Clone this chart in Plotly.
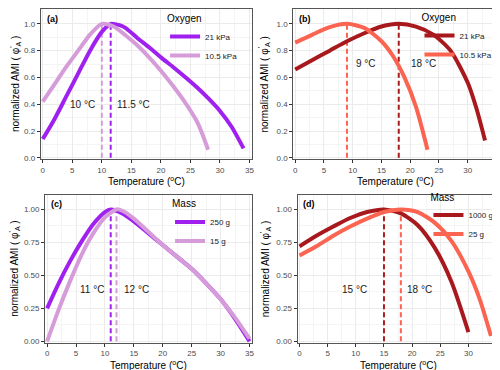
import plotly.graph_objects as go

# ---------------- data ----------------
# Panel (a) Oxygen
a_names = ["21 kPa", "10.5 kPa"]
a_x_21 = [0, 2, 4, 6, 8, 10, 11.5, 13, 14, 16, 18, 20, 22, 24, 26, 28, 30, 32, 34]
a_y_21 = [0.14, 0.29, 0.46, 0.63, 0.80, 0.94, 1.0, 0.99, 0.97, 0.895, 0.825, 0.75, 0.68, 0.607, 0.53, 0.445, 0.35, 0.23, 0.07]
a_x_105 = [0, 2, 4, 6, 8, 10, 12, 14, 16, 18, 20, 22, 24, 26, 27, 28]
a_y_105 = [0.42, 0.55, 0.68, 0.80, 0.92, 1.0, 0.98, 0.915, 0.84, 0.75, 0.65, 0.54, 0.42, 0.28, 0.18, 0.06]
a_opt = [11.5, 10]

# Panel (b) Oxygen
b_names = ["21 kPa", "10.5 kPa"]
b_x_21 = [0, 3, 6, 9, 12, 15, 18, 21, 24, 27, 30, 31.5, 33]
b_y_21 = [0.66, 0.73, 0.80, 0.87, 0.93, 0.98, 1.0, 0.98, 0.92, 0.80, 0.56, 0.37, 0.13]
b_x_105 = [0, 3, 6, 9, 12, 15, 17, 19, 21, 23]
b_y_105 = [0.86, 0.92, 0.975, 1.0, 0.97, 0.87, 0.76, 0.60, 0.38, 0.06]
b_opt = [18, 9]

# Panel (c) Mass
c_names = ["250 g", "15 g"]
c_x_250 = [0, 2, 4, 6, 8, 10, 11, 13, 15, 17.5, 20, 22.5, 25, 27.5, 30, 32.5, 35]
c_y_250 = [0.25, 0.44, 0.61, 0.76, 0.89, 0.98, 1.0, 0.97, 0.91, 0.82, 0.73, 0.64, 0.55, 0.44, 0.32, 0.17, 0.0]
c_x_15 = [0, 2, 4, 6, 8, 10, 12, 13, 15, 17.5, 20, 22.5, 25, 27.5, 30, 32.5, 35]
c_y_15 = [0.0, 0.24, 0.46, 0.66, 0.82, 0.94, 1.0, 0.99, 0.93, 0.83, 0.73, 0.64, 0.55, 0.44, 0.32, 0.18, 0.02]
c_opt = [11, 12]

# Panel (d) Mass
d_names = ["1000 g", "25 g"]
d_x_1000 = [0, 3, 6, 9, 12, 15, 18, 21, 24, 27, 30]
d_y_1000 = [0.72, 0.80, 0.87, 0.935, 0.98, 1.0, 0.97, 0.88, 0.71, 0.45, 0.07]
d_x_25 = [0, 3, 6, 9, 12, 15, 18, 21, 24, 27, 30, 32, 34]
d_y_25 = [0.65, 0.72, 0.80, 0.87, 0.93, 0.98, 1.0, 0.98, 0.90, 0.76, 0.53, 0.32, 0.04]
d_opt = [15, 18]

x_ticks = [0, 5, 10, 15, 20, 25, 30, 35]
y_ticks_ab = [0.0, 0.2, 0.4, 0.6, 0.8, 1.0]
y_ticks_cd = [0.0, 0.25, 0.5, 0.75, 1.0]

# ---------------- style ----------------
FONT = "Liberation Sans, Arial, Helvetica, sans-serif"
purple, plum = "#A020F0", "#D59CD9"
darkred, tomato = "#A8191E", "#FA6450"
W, H = 500, 370
X_TITLE = "Temperature (<sup>o</sup>C)"
Y_TITLE = "normalized AMI ( φ<sup>'</sup><sub>A</sub> )"

panels = [
    dict(key="", leg="legend", lab="(a)", title="Oxygen", names=a_names,
         xs=[a_x_21, a_x_105], ys=[a_y_21, a_y_105], opt=a_opt, cols=[purple, plum],
         dom_x=[32.9, 245.0], dom_y=[1.0, 152.5], yt=y_ticks_ab, fmt=".1f", ytx=7,
         labs=[("left", 0.8, 0.395), ("right", -0.8, 0.395)]),
    dict(key="2", leg="legend2", lab="(b)", title="Oxygen", names=b_names,
         xs=[b_x_21, b_x_105], ys=[b_y_21, b_y_105], opt=b_opt, cols=[darkred, tomato],
         dom_x=[286.9, 493.5], dom_y=[1.0, 152.5], yt=y_ticks_ab, fmt=".1f", ytx=257,
         labs=[("left", 1.8, 0.705), ("left", 1.3, 0.705)]),
    dict(key="3", leg="legend3", lab="(c)", title="Mass", names=c_names,
         xs=[c_x_250, c_x_15], ys=[c_y_250, c_y_15], opt=c_opt, cols=[purple, plum],
         dom_x=[37.3, 245.0], dom_y=[188.3, 337.5], yt=y_ticks_cd, fmt=".2f", ytx=7,
         labs=[("right", -0.9, 0.39), ("left", 1.0, 0.39)]),
    dict(key="4", leg="legend4", lab="(d)", title="Mass", names=d_names,
         xs=[d_x_1000, d_x_25], ys=[d_y_1000, d_y_25], opt=d_opt, cols=[darkred, tomato],
         dom_x=[291.3, 493.5], dom_y=[188.3, 337.5], yt=y_ticks_cd, fmt=".2f", ytx=259,
         labs=[("right", -2.6, 0.39), ("left", 0.8, 0.39)]),
]

legend_pos = {
    "legend": dict(x=158, y=1),
    "legend2": dict(x=414, y=0),
    "legend3": dict(x=163, y=188),
    "legend4": dict(x=423, y=181),
}

fig = go.Figure()
layout = dict(width=W, height=H, margin=dict(l=0, r=0, t=0, b=0),
              plot_bgcolor="white", paper_bgcolor="white",
              font=dict(family=FONT, color="#1a1a1a"), annotations=[])

for p in panels:
    k = p["key"]
    xa, ya = "x" + k, "y" + k
    # dashed optimum lines (drawn first)
    for t, c in zip(p["opt"], p["cols"]):
        fig.add_trace(go.Scatter(x=[t, t], y=[0, 1], mode="lines", xaxis=xa, yaxis=ya,
                                 line=dict(color=c, width=2, dash="5px,3px"),
                                 showlegend=False, hoverinfo="skip"))
    for name, xs, ys, c in zip(p["names"], p["xs"], p["ys"], p["cols"]):
        fig.add_trace(go.Scatter(x=xs, y=ys, mode="lines", name=name, xaxis=xa, yaxis=ya,
                                 line=dict(color=c, width=4, shape="spline", smoothing=0.7),
                                 legend=p["leg"]))
    gridkw = dict(showgrid=True, gridcolor="#EBEBEB", gridwidth=1, zeroline=False,
                  showline=True, linecolor="#555555", linewidth=1, mirror=True,
                  ticks="outside", ticklen=3, tickcolor="#333333", tickwidth=1,
                  ticklabeloverflow="allow",
                  tickfont=dict(size=8, color="#4D4D4D", family=FONT))
    layout["xaxis" + k] = dict(domain=[p["dom_x"][0] / W, p["dom_x"][1] / W], anchor=ya,
                               range=[-0.35, 35.35], tickvals=x_ticks,
                               minor=dict(dtick=2.5, tick0=0, showgrid=True, gridcolor="#F4F4F4",
                                          gridwidth=0.6, ticks=""),
                               **gridkw)
    layout["yaxis" + k] = dict(domain=[1 - p["dom_y"][1] / H, 1 - p["dom_y"][0] / H], anchor=xa,
                               range=[-0.011, 1.111], tickvals=p["yt"], tickformat=p["fmt"],
                               minor=dict(tickvals=[(a + b) / 2 for a, b in zip(p["yt"][:-1], p["yt"][1:])],
                                          showgrid=True, gridcolor="#F4F4F4", gridwidth=0.6, ticks=""),
                               **gridkw)
    lp = legend_pos[p["leg"]]
    layout[p["leg"]] = dict(x=lp["x"] / W, xanchor="left", y=1 - lp["y"] / H, yanchor="top",
                            bgcolor="rgba(255,255,255,0)", borderwidth=0,
                            title=dict(text=p["title"], font=dict(size=10, color="#000000")),
                            font=dict(size=8, color="#1a1a1a"), tracegroupgap=0)
    # axis titles
    layout["annotations"].append(dict(x=0.5, y=0, xref=xa + " domain", yref=ya + " domain",
                                      text=X_TITLE, showarrow=False, xanchor="center", yanchor="top",
                                      yshift=-14, font=dict(size=10, color="#000000")))
    layout["annotations"].append(dict(x=p["ytx"] / W, y=0.5, xref="paper", yref=ya + " domain",
                                      text=Y_TITLE, showarrow=False, xanchor="center", yanchor="middle",
                                      textangle=-90, font=dict(size=10, color="#000000")))
    # panel label
    layout["annotations"].append(dict(x=0.3, y=1.04, xref=xa, yref=ya, text="<b>" + p["lab"] + "</b>",
                                      showarrow=False, xanchor="left", yanchor="middle",
                                      font=dict(size=9, color="#000000")))
    # optimum temperature labels
    for t, (anc, off, yy) in zip(p["opt"], p["labs"]):
        layout["annotations"].append(dict(x=t + off, y=yy, xref=xa, yref=ya, text=f"{t:g} °C",
                                          showarrow=False, xanchor=anc, yanchor="middle",
                                          font=dict(size=10, color="#1a1a1a")))

fig.update_layout(**layout)
fig.write_html("out.html")
